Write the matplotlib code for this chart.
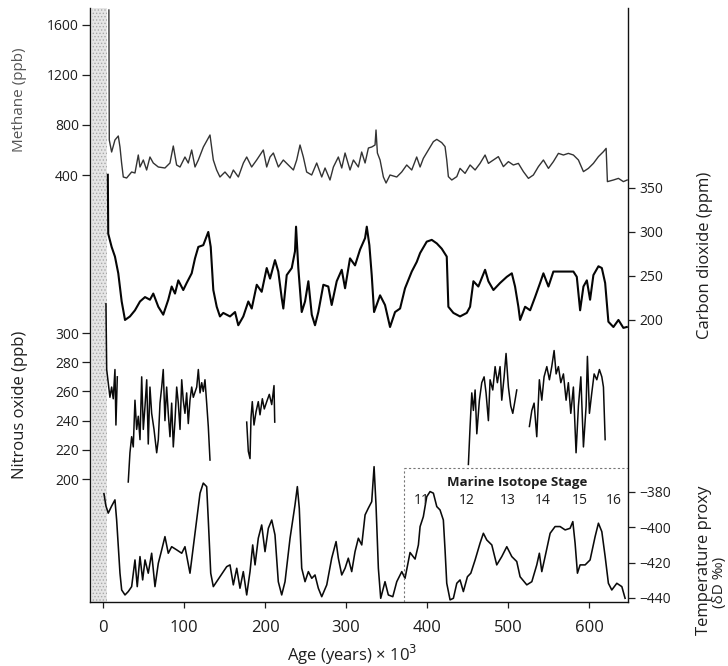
import matplotlib
matplotlib.use("Agg")
import matplotlib.pyplot as plt
import numpy as np

plt.rcParams['font.family'] = ['Open Sans', 'DejaVu Sans']
plt.rcParams['axes.unicode_minus'] = True
plt.rcParams['hatch.linewidth'] = 0.6

# ---------------- data (age in kyr BP) ----------------
ch4_age = [7.3, 7.8, 10.7, 14.8, 18.9, 21.0, 23.0, 25.1, 29.2, 35.4,
           39.5, 43.6, 45.7, 49.8, 53.9, 58.0, 62.1, 68.3, 76.5, 82.7,
           86.8, 90.9, 95.1, 101.2, 105.3, 109.5, 113.6, 117.7, 123.9, 132.1,
           136.2, 140.3, 144.4, 150.6, 156.8, 160.9, 167.1, 173.3, 177.4, 183.5,
           189.7, 197.9, 202.1, 206.2, 210.3, 216.5, 222.6, 228.8, 235.0, 239.1,
           243.2, 247.3, 251.4, 257.6, 263.8, 270.0, 274.1, 280.2, 284.4, 290.5,
           294.7, 298.8, 304.9, 309.1, 315.2, 319.3, 323.5, 327.6, 331.7, 335.8,
           337.0, 338.7, 342.0, 346.1, 349.4, 354.3, 362.6, 368.7, 374.9, 381.1,
           387.2, 391.4, 395.4, 401.6, 407.8, 412.0, 418.1, 422.2, 424.3, 426.3,
           430.5, 436.7, 440.7, 446.9, 453.1, 459.3, 465.4, 471.6, 475.7, 481.9,
           488.0, 494.2, 500.4, 506.5, 512.7, 518.9, 525.1, 531.2, 537.4, 543.6,
           549.8, 555.9, 562.1, 568.3, 574.4, 580.6, 586.8, 593.0, 599.1, 605.3,
           611.5, 617.7, 621.0, 622.6, 630.0, 636.2, 642.3, 647.0]
ch4_ppb = [1720, 680, 584, 680, 712, 624, 496, 384, 376, 424,
           416, 560, 464, 520, 440, 544, 496, 464, 456, 496,
           632, 480, 464, 544, 496, 600, 464, 520, 624, 720,
           520, 440, 384, 424, 376, 440, 384, 496, 544, 464,
           520, 600, 464, 544, 576, 464, 520, 480, 440, 520,
           640, 544, 424, 400, 496, 384, 456, 360, 464, 544,
           456, 576, 440, 520, 464, 584, 496, 616, 624, 640,
           760, 576, 520, 384, 336, 400, 384, 424, 480, 440,
           544, 464, 533, 600, 667, 685, 659, 627, 520, 387,
           360, 387, 453, 413, 480, 440, 493, 560, 493, 520,
           547, 467, 507, 480, 493, 427, 373, 400, 467, 520,
           453, 507, 573, 560, 573, 560, 520, 427, 453, 493,
           547, 587, 613, 347, 360, 373, 347, 360]

co2_age = [6.0, 6.5, 10.7, 14.8, 18.9, 23.1, 27.2, 33.3, 39.5, 45.7,
           51.9, 58.0, 62.1, 68.3, 74.4, 80.6, 84.8, 88.9, 93.0, 99.1,
           103.3, 109.5, 113.6, 117.7, 123.8, 130.0, 133.0, 136.2, 140.4, 144.4,
           148.5, 156.8, 163.0, 167.0, 173.2, 179.4, 183.6, 189.8, 195.9, 202.1,
           206.2, 212.3, 216.4, 220.6, 222.6, 226.8, 233.0, 237.0, 238.3, 241.1,
           245.3, 249.4, 253.5, 257.7, 261.7, 265.8, 272.0, 278.1, 282.3, 288.5,
           294.7, 298.8, 304.9, 311.1, 317.3, 323.5, 325.6, 328.8, 331.7, 334.6,
           342.0, 348.1, 354.3, 360.5, 366.7, 372.8, 381.1, 387.3, 391.4, 399.6,
           405.8, 412.0, 418.1, 424.3, 426.3, 432.5, 440.7, 449.0, 453.1, 457.2,
           463.3, 471.6, 475.7, 481.9, 490.1, 498.4, 504.6, 508.6, 512.7, 514.8,
           521.0, 527.2, 533.3, 539.5, 543.6, 549.8, 555.9, 564.2, 572.5, 580.6,
           584.8, 588.9, 593.0, 597.2, 601.2, 605.3, 611.5, 615.7, 619.8, 623.8,
           630.0, 636.2, 642.3, 646.5]
co2_ppm = [365, 298, 283, 272, 253, 221, 200, 204, 211, 221,
           226, 223, 230, 215, 206, 223, 238, 230, 245, 234,
           242, 253, 270, 283, 285, 300, 283, 234, 215, 204,
           208, 204, 209, 194, 204, 221, 213, 240, 232, 259,
           247, 268, 255, 225, 213, 251, 259, 278, 306, 259,
           209, 221, 244, 206, 194, 209, 240, 238, 217, 244,
           257, 236, 270, 262, 280, 293, 306, 285, 251, 209,
           228, 217, 192, 209, 213, 236, 255, 266, 276, 289,
           291, 287, 281, 272, 215, 208, 204, 208, 215, 244,
           238, 257, 244, 234, 242, 249, 253, 238, 215, 200,
           215, 211, 226, 242, 253, 238, 255, 255, 255, 255,
           249, 211, 238, 245, 223, 251, 261, 259, 242, 198,
           192, 200, 191, 192]

n2o_age_1 = [3.7, 4.6, 6.5, 8.6, 10.7, 12.7, 14.8, 16.0, 17.7]
n2o_ppb_1 = [320, 275, 266, 256, 263, 255, 275, 237, 270]
n2o_age_2 = [31.2, 33.3, 35.4, 37.4, 39.5, 41.6, 43.6, 45.7, 47.8, 49.8,
             51.9, 54.0, 55.9, 58.0, 60.1, 63.0, 66.3, 68.3, 70.4, 72.5,
             74.4, 76.5, 78.6, 80.6, 82.7, 84.8, 86.8, 88.9, 91.0, 93.0,
             95.1, 97.2, 99.1, 101.2, 103.3, 105.3, 107.4, 109.5, 111.5, 115.7,
             117.7, 119.8, 121.9, 123.8, 125.9, 128.0, 130.0, 132.1]
n2o_ppb_2 = [198, 218, 229, 222, 254, 234, 243, 227, 270, 234,
             250, 268, 224, 263, 245, 234, 218, 227, 252, 263,
             275, 240, 263, 245, 229, 252, 222, 240, 263, 252,
             234, 268, 254, 245, 259, 238, 254, 263, 256, 263,
             275, 259, 266, 260, 268, 252, 236, 213]
n2o_age_3 = [177.4, 179.4, 181.5, 182.7, 184.3, 186.4, 188.9, 191.7, 193.8, 196.7,
             199.1, 202.1, 205.3, 208.3, 211.1, 212.0]
n2o_ppb_3 = [239, 219, 214, 242, 253, 237, 246, 253, 244, 255,
             248, 253, 258, 251, 264, 239]
n2o_age_4 = [451.0, 453.1, 455.2, 457.2, 459.3, 461.4, 464.6, 467.5, 470.4, 472.8,
             475.7, 477.8, 481.1, 484.0, 486.8, 490.1, 492.2, 495.1, 497.5, 500.4,
             503.3, 505.8, 508.6, 510.7]
n2o_ppb_4 = [210, 236, 259, 247, 261, 231, 254, 266, 270, 259,
             240, 268, 261, 277, 266, 277, 254, 270, 286, 263,
             250, 245, 254, 261]
n2o_age_5 = [526.3, 529.3, 532.1, 535.4, 538.6, 541.6, 544.4, 547.8, 551.0, 553.9,
             556.8, 559.3, 562.1, 565.1, 568.3, 571.6, 574.4, 577.4, 580.6, 583.9,
             586.8, 589.8, 593.0, 596.3, 597.9, 600.4, 603.3, 606.2, 609.5, 612.7,
             615.7, 617.7, 619.8]
n2o_ppb_5 = [236, 247, 252, 229, 268, 254, 270, 277, 268, 277,
             288, 272, 277, 266, 272, 254, 266, 245, 263, 218,
             250, 270, 222, 250, 284, 245, 259, 272, 268, 275,
             270, 263, 227]

temp_age = [1.2, 3.7, 6.5, 10.7, 14.8, 16.9, 18.9, 21.0, 23.1, 27.2,
            31.2, 35.4, 39.5, 42.3, 45.7, 49.0, 51.9, 55.9, 60.1, 64.2,
            68.3, 72.5, 76.5, 80.6, 84.8, 91.0, 97.2, 101.2, 107.4, 111.5,
            115.7, 119.8, 123.8, 128.0, 130.0, 133.0, 136.2, 144.4, 152.7, 156.8,
            160.9, 165.1, 169.1, 173.2, 177.4, 181.5, 184.8, 187.7, 191.7, 195.9,
            200.0, 204.1, 208.3, 212.3, 216.4, 220.6, 224.7, 230.9, 237.0, 239.9,
            242.3, 245.3, 249.4, 253.5, 257.7, 261.7, 265.8, 270.0, 276.2, 282.3,
            287.7, 290.5, 294.7, 298.8, 302.8, 307.0, 311.1, 315.2, 319.4, 323.5,
            327.5, 331.7, 334.6, 337.0, 339.9, 342.8, 348.1, 352.2, 357.7, 362.6,
            368.8, 372.8, 379.0, 385.2, 389.3, 391.4, 395.4, 399.6, 403.7, 407.8,
            412.0, 416.0, 420.1, 422.2, 424.3, 428.4, 432.5, 436.7, 440.7, 444.8,
            449.8, 454.0, 459.3, 465.4, 469.5, 473.7, 479.9, 486.0, 492.2, 498.4,
            504.6, 510.7, 514.8, 523.1, 529.3, 535.4, 538.6, 541.6, 545.7, 551.9,
            558.0, 564.2, 570.4, 576.5, 579.9, 582.7, 585.6, 588.9, 595.1, 601.2,
            607.4, 611.5, 615.7, 619.8, 623.8, 628.0, 634.2, 640.4, 644.4]
temp_dD = [-381, -388, -392, -388, -384.5, -396, -411, -426, -435.5, -438.3,
           -436.4, -433.6, -418.5, -433.6, -416.6, -429.8, -418.5, -426, -414.7, -433.6,
           -420.4, -412.8, -405.3, -414.7, -411, -412.8, -414.7, -411, -426, -411,
           -395.9, -380.7, -375, -377, -395.9, -426, -433.6, -428, -422.3, -421.3,
           -432.6, -423.2, -434.5, -425.1, -438.3, -425.1, -410, -421.3, -406.2, -398.7,
           -413.8, -400.6, -395.9, -404.3, -430.8, -438.3, -430.8, -406.2, -387.4, -377,
           -389.2, -423.2, -430.8, -425.1, -428.9, -427, -434.5, -439.3, -432.6, -417.5,
           -408.1, -417.5, -427, -423.2, -417.5, -425.1, -413.8, -406.2, -410, -393,
           -389.2, -385.5, -365.7, -387.4, -423.2, -440.2, -430.8, -438.3, -439.3, -430.8,
           -425.1, -428.9, -414.3, -418, -410, -399.6, -394, -382.7, -379.8, -380.7,
           -388.3, -390.2, -395.9, -412.8, -431.7, -441.1, -440.2, -431.7, -429.8, -436.4,
           -428, -426, -418.5, -409, -403.4, -407.2, -410, -421.3, -416.6, -411,
           -416.6, -419.4, -428, -432.6, -430.8, -421.3, -414.7, -425.1, -416.6, -403.4,
           -399.6, -399.6, -401.5, -400.6, -396.8, -409, -426, -421.3, -421.3, -418.5,
           -405.3, -397.7, -402.5, -416.6, -431.7, -435.5, -431.7, -433.6, -440.2]

mis_labels = ["11", "12", "13", "14", "15", "16"]
mis_age = [394, 449, 499, 543, 589, 630]

x_ticks = [0, 100, 200, 300, 400, 500, 600]
ch4_ticks = [400, 800, 1200, 1600]
co2_ticks = [200, 250, 300, 350]
n2o_ticks = [200, 220, 240, 260, 280, 300]
temp_ticks = [-440, -420, -400, -380]

# ---------------- layout ----------------
W, H = 728, 666
fig = plt.figure(figsize=(W / 100, H / 100), dpi=100)
rect = [90 / W, 64 / H, 538 / W, 594 / H]

txt = '#1e1e1e'
ax = fig.add_axes(rect)
ax.set_xlim(-16, 648)
ax.set_ylim(0, 1)
ax.set_yticks([])
ax.spines['top'].set_visible(False)
for s in ['left', 'right', 'bottom']:
    ax.spines[s].set_linewidth(1.0)
    ax.spines[s].set_color('#111111')
ax.set_xticks(x_ticks)
ax.tick_params(axis='x', direction='out', length=4, width=0.9, pad=9,
               labelsize=12, colors=txt)
ax.axvspan(-13, 5, facecolor='#e6e6e6', edgecolor='#a8a8a8', hatch='.....',
           zorder=0, lw=0)


def overlay(ylim):
    a = fig.add_axes(rect, sharex=ax)
    a.patch.set_visible(False)
    for s in a.spines.values():
        s.set_visible(False)
    a.set_ylim(*ylim)
    a.xaxis.set_visible(False)
    return a


axm = overlay((-3016, 1736))
axm.plot(ch4_age, ch4_ppb, color='#333333', lw=1.0)
axm.set_yticks(ch4_ticks)

axc = overlay((-120.5, 554.5))
axc.plot(co2_age, co2_ppm, color='#050505', lw=1.5)
axc.yaxis.tick_right()
axc.set_yticks(co2_ticks)

axn = overlay((115.8, 522.6))
for a_, v_ in [(n2o_age_1, n2o_ppb_1), (n2o_age_2, n2o_ppb_2), (n2o_age_3, n2o_ppb_3),
               (n2o_age_4, n2o_ppb_4), (n2o_age_5, n2o_ppb_5)]:
    axn.plot(a_, v_, color='#0a0a0a', lw=1.1)
axn.set_yticks(n2o_ticks)

axt = overlay((-442.3, -106.1))
axt.plot(temp_age, temp_dD, color='#0a0a0a', lw=1.15)
axt.yaxis.tick_right()
axt.set_yticks(temp_ticks)

for a in (axm, axn):
    a.tick_params(axis='y', direction='out', length=6, width=0.9, pad=2,
                  labelsize=10, colors=txt)
for a in (axc, axt):
    a.tick_params(axis='y', direction='out', length=5, width=0.9, pad=3,
                  labelsize=10, colors=txt)

# Marine isotope stage inset
box_top = -366.4
axt.plot([371, 648], [box_top, box_top], ls=(0, (2, 2)), color='#777777', lw=0.8)
axt.plot([371, 371], [-442.3, box_top], ls=(0, (2, 2)), color='#777777', lw=0.8)
axt.text(511, -374.9, "Marine Isotope Stage", ha='center', va='center',
         fontsize=9.5, fontweight='bold', color=txt)
for lab, a_ in zip(mis_labels, mis_age):
    axt.text(a_, -385.1, lab, ha='center', va='center', fontsize=10, color=txt)

# axis labels
def ft(x, y, s, **kw):
    fig.text(x / W, 1 - y / H, s, ha='center', va='center', **kw)

ft(20, 100, "Methane (ppb)", rotation=90, fontsize=11, color='#555555')
ft(20, 405, "Nitrous oxide (ppb)", rotation=90, fontsize=12, color=txt)
ft(705, 255, "Carbon dioxide (ppm)", rotation=90, fontsize=12, color=txt)
ft(704, 560, "Temperature proxy", rotation=90, fontsize=12, color=txt)
ft(720, 582, "(δD ‰)", rotation=90, fontsize=11, color=txt)
ft(352, 655, "Age (years) × 10$^3$", fontsize=12, color=txt)

fig.savefig("out.png", dpi=100)
